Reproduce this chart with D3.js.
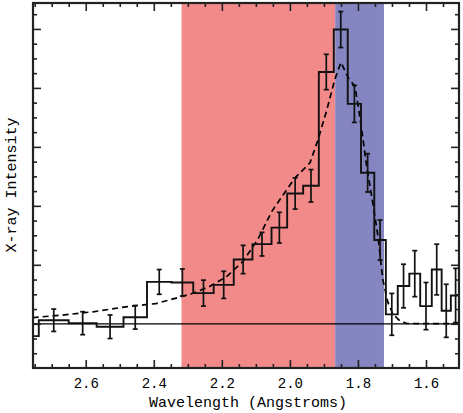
<!DOCTYPE html>
<html>
<head>
<meta charset="utf-8">
<script src="https://cdn.jsdelivr.net/npm/d3@7"></script>
<style>
  html, body { margin: 0; padding: 0; background: #fff; }
  svg text { font-family: "Liberation Mono", "DejaVu Sans Mono", monospace; fill: #000; }
</style>
</head>
<body>
<svg id="chart" width="463" height="413"></svg>
<script>
const binEdges = [2.832, 2.738, 2.650, 2.568, 2.489, 2.420, 2.348, 2.284, 2.224, 2.165,
  2.110, 2.054, 2.008, 1.961, 1.915, 1.871, 1.830, 1.791, 1.752, 1.718,
  1.683, 1.649, 1.617, 1.583, 1.554, 1.527, 1.499];
const binValues = [-0.21, 0.06, 0.01, -0.05, 0.11, 0.71, 0.70, 0.52, 0.66, 1.09,
  1.35, 1.63, 2.21, 2.34, 4.27, 4.99, 3.73, 2.56, 1.42, 0.16,
  0.64, 0.85, 0.30, 0.92, 0.22, 0.48];
const binErrors = [0.18, 0.19, 0.195, 0.20, 0.20, 0.21, 0.23, 0.22, 0.23, 0.24,
  0.20, 0.26, 0.265, 0.275, 0.30, 0.305, 0.315, 0.325, 0.34, 0.355,
  0.37, 0.39, 0.40, 0.43, 0.45, 0.46];

// dashed model curve
const modelWave = [2.756, 2.674, 2.574, 2.477, 2.394, 2.315, 2.285, 2.235, 2.185, 2.138,
  2.094, 2.053, 2.029, 1.985, 1.941, 1.918, 1.891, 1.868, 1.850, 1.829,
  1.809, 1.800, 1.785, 1.774, 1.759, 1.741, 1.727, 1.712, 1.697, 1.677,
  1.656, 1.503];
const modelFlux = [0.105, 0.144, 0.207, 0.292, 0.342, 0.466, 0.517, 0.636, 0.805, 1.059,
  1.432, 1.907, 2.110, 2.475, 2.729, 3.110, 3.636, 4.144, 4.432, 4.178,
  4.025, 3.720, 3.127, 2.653, 2.144, 1.483, 0.754, 0.364, 0.161, 0.051,
  0.005, 0.0];

// shaded wavelength bands
const bandRanges = [[2.3185, 1.867], [1.867, 1.7235]];
const bandColors = ['#f28a8a', '#8585c2'];

const xMajorTicks = [2.6, 2.4, 2.2, 2.0, 1.8, 1.6];
const xTickLabels = ['2.6', '2.4', '2.2', '2.0', '1.8', '1.6'];
const yMajorTicks = [0, 1, 2, 3, 4, 5];

const margin = { left: 33, right: 4, top: 3, bottom: 45 };
const width = 463, height = 413;
const pw = width - margin.left - margin.right;
const ph = height - margin.top - margin.bottom;

const svg = d3.select('#chart');
const g = svg.append('g').attr('transform', `translate(${margin.left},${margin.top})`);

const x = d3.scaleLinear().domain([2.755, 1.503]).range([0, pw]);
const y = d3.scaleLinear().domain([-0.75, 5.44]).range([ph, 0]);

svg.append('defs').append('clipPath').attr('id', 'plotClip')
  .append('rect').attr('width', pw).attr('height', ph);

const plot = g.append('g').attr('clip-path', 'url(#plotClip)');

// bands
plot.selectAll('rect.band')
  .data(bandRanges)
  .enter()
  .append('rect')
  .attr('class', 'band')
  .attr('x', d => x(d[0]))
  .attr('width', d => x(d[1]) - x(d[0]))
  .attr('y', 0)
  .attr('height', ph)
  .attr('fill', (d, i) => bandColors[i]);

// zero line
plot.append('line')
  .attr('x1', 0).attr('x2', pw)
  .attr('y1', y(0)).attr('y2', y(0))
  .attr('stroke', '#000')
  .attr('stroke-width', 1.2);

// model
const modelPts = modelWave.map((w, i) => [w, modelFlux[i]]);
plot.append('path')
  .attr('d', d3.line().x(d => x(d[0])).y(d => y(d[1]))(modelPts))
  .attr('fill', 'none')
  .attr('stroke', '#000')
  .attr('stroke-width', 1.7)
  .attr('stroke-dasharray', '6,4');

// histogram
const stepPts = binEdges.map((e, i) => [e, binValues[Math.min(i, binValues.length - 1)]]);
plot.append('path')
  .attr('d', d3.line().x(d => x(d[0])).y(d => y(d[1])).curve(d3.curveStepAfter)(stepPts))
  .attr('fill', 'none')
  .attr('stroke', '#111')
  .attr('stroke-width', 1.9);

// error bars
const bins = binValues.map((v, i) => ({
  mid: (binEdges[i] + binEdges[i + 1]) / 2,
  v: v,
  e: binErrors[i]
}));
const eb = plot.selectAll('g.err')
  .data(bins)
  .enter()
  .append('g')
  .attr('class', 'err')
  .attr('stroke', '#111')
  .attr('stroke-width', 1.7);
eb.append('line')
  .attr('x1', d => x(d.mid)).attr('x2', d => x(d.mid))
  .attr('y1', d => y(d.v - d.e)).attr('y2', d => y(d.v + d.e));
eb.append('line')
  .attr('x1', d => x(d.mid) - 2.5).attr('x2', d => x(d.mid) + 2.5)
  .attr('y1', d => y(d.v + d.e)).attr('y2', d => y(d.v + d.e));
eb.append('line')
  .attr('x1', d => x(d.mid) - 2.5).attr('x2', d => x(d.mid) + 2.5)
  .attr('y1', d => y(d.v - d.e)).attr('y2', d => y(d.v - d.e));

// axes: ticks point inward on all four sides
const xMinor = d3.range(2.75, 1.5, -0.05).filter(t => !xMajorTicks.some(m => Math.abs(m - t) < 1e-6));
const yMinor = d3.range(-0.5, 5.3, 0.25).filter(t => !yMajorTicks.some(m => Math.abs(m - t) < 1e-6));

function styleAxis(sel) {
  sel.select('.domain').remove();
  sel.selectAll('.tick line').attr('stroke', '#222').attr('stroke-width', 1.6);
}

g.append('g').attr('transform', `translate(0,${ph})`)
  .call(d3.axisBottom(x).tickValues(xMajorTicks).tickSize(-8).tickPadding(10)
    .tickFormat((d, i) => xTickLabels[i]))
  .call(styleAxis)
  .selectAll('text').style('font-size', '14px');
g.append('g').attr('transform', `translate(0,${ph})`)
  .call(d3.axisBottom(x).tickValues(xMinor).tickSize(-4).tickFormat(''))
  .call(styleAxis);
g.append('g')
  .call(d3.axisTop(x).tickValues(xMajorTicks).tickSize(-8).tickFormat(''))
  .call(styleAxis);
g.append('g')
  .call(d3.axisTop(x).tickValues(xMinor).tickSize(-4).tickFormat(''))
  .call(styleAxis);
g.append('g')
  .call(d3.axisLeft(y).tickValues(yMajorTicks).tickSize(-8).tickFormat(''))
  .call(styleAxis);
g.append('g')
  .call(d3.axisLeft(y).tickValues(yMinor).tickSize(-4).tickFormat(''))
  .call(styleAxis);
g.append('g').attr('transform', `translate(${pw},0)`)
  .call(d3.axisRight(y).tickValues(yMajorTicks).tickSize(-8).tickFormat(''))
  .call(styleAxis);
g.append('g').attr('transform', `translate(${pw},0)`)
  .call(d3.axisRight(y).tickValues(yMinor).tickSize(-4).tickFormat(''))
  .call(styleAxis);

// frame
g.append('rect')
  .attr('width', pw).attr('height', ph)
  .attr('fill', 'none')
  .attr('stroke', '#222')
  .attr('stroke-width', 2.2);

// axis titles
svg.append('text')
  .attr('x', 248)
  .attr('y', 407)
  .attr('text-anchor', 'middle')
  .style('font-size', '15px')
  .text('Wavelength (Angstroms)');

svg.append('text')
  .attr('transform', 'translate(16,185) rotate(-90)')
  .attr('text-anchor', 'middle')
  .style('font-size', '15px')
  .text('X-ray Intensity');
</script>
</body>
</html>
